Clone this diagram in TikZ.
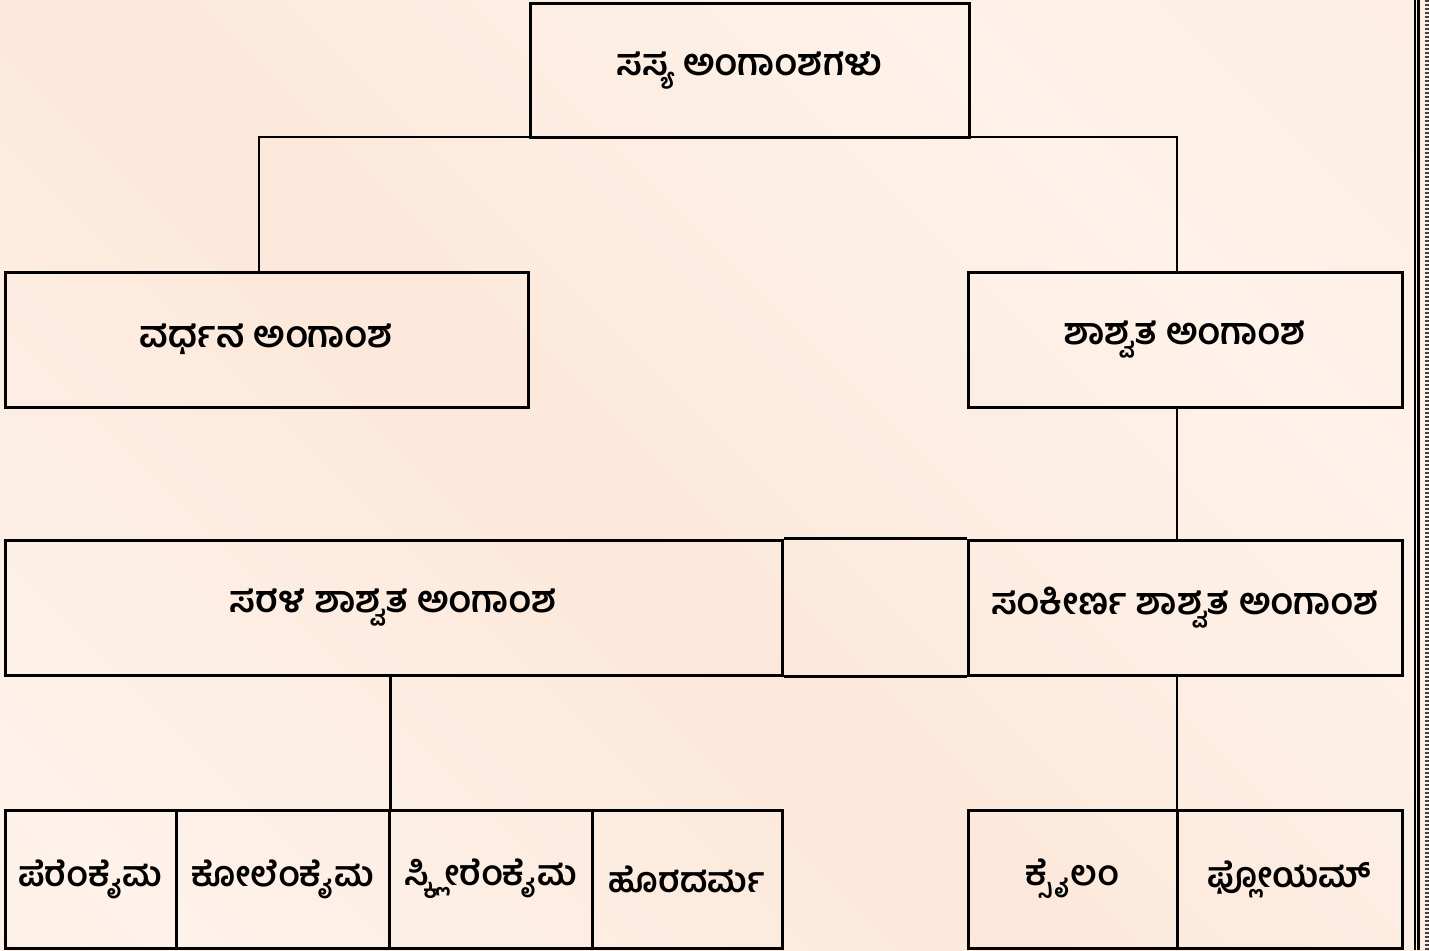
\documentclass[tikz,border=0pt]{standalone}
\usepackage{fontspec}
\usepackage{tikz}
\newfontfamily\kannada[Script=Kannada]{Hind Mysuru}

\definecolor{peachdark}{HTML}{FCE8DA}
\definecolor{peachlight}{HTML}{FEF2EA}
\pgfdeclarehorizontalshading{peachbands}{100bp}{color(0bp)=(peachdark); color(30bp)=(peachlight); color(55bp)=(peachdark); color(80bp)=(peachlight); color(100bp)=(peachdark)}

\tikzset{
  cell/.style 2 args={draw, line width=3pt, minimum width=#1, minimum height=#2,
    inner sep=0pt, font=\kannada\bfseries\fontsize{37}{42}\selectfont},
  leaf/.style={cell={#1}{138pt}, font=\kannada\bfseries\fontsize{35}{40}\selectfont},
  link/.style={line width=2.5pt}
}

\begin{document}
\begin{tikzpicture}[x=1pt, y=-1pt]

%% page
\useasboundingbox (0,0) rectangle (1429,950);
\shade[shading=peachbands, shading angle=-135] (0,0) rectangle (1429,950);
\draw[line width=2.4pt] (1415,0) -- (1415,950);
\draw[line width=2.4pt] (1418.5,0) -- (1418.5,950);
\draw[line width=4pt, black!75, dash pattern=on 2pt off 2pt] (1427,0) -- (1427,950);

%% boxes
\node[cell={439pt}{133pt}] (root) at (749.5,70.5) {ಸಸ್ಯ ಅಂಗಾಂಶಗಳು};
\node[cell={523pt}{135pt}] (vardhana) at (266.5,339.5) {ವರ್ಧನ ಅಂಗಾಂಶ};
\node[cell={434pt}{135pt}] (shashvata) at (1185,339.5) {ಶಾಶ್ವತ ಅಂಗಾಂಶ};
\node[cell={777pt}{135pt}] (sarala) at (393.5,607.5) {ಸರಳ ಶಾಶ್ವತ ಅಂಗಾಂಶ};
\node[cell={434pt}{135pt}] (sankeerna) at (1185,607.5) {ಸಂಕೀರ್ಣ ಶಾಶ್ವತ ಅಂಗಾಂಶ};

%% bottom row
\node[leaf=171pt] (parenchyma) at (90.5,879) {ಪೆರೆಂಕೈಮ};
\node[leaf=213pt] (collenchyma) at (282.5,879) {ಕೋಲೆಂಕೈಮ};
\node[leaf=203pt] (sclerenchyma) at (490.5,879) {ಸ್ಕ್ಲೀರೆಂಕೈಮ};
\node[leaf=190pt] (epidermis) at (687,879) {ಹೊರದರ್ಮ};
\node[leaf=209pt] (xylem) at (1072.5,879) {ಕ್ಸೈಲಂ};
\node[leaf=225pt] (phloem) at (1289.5,879) {ಫ್ಲೋಯಮ್};

%% links
\coordinate (jl) at (259,137);
\coordinate (jr) at (1177,137);
\draw[link] (jl |- vardhana.north) -- (jl) -- (jr) -- (jr |- shashvata.north);
\draw[link] (jr |- shashvata.south) -- (jr |- sankeerna.north);
\draw[link] (sarala.north east) -- (sankeerna.north west);
\draw[link] (sarala.south east) -- (sankeerna.south west);
\draw[link] (collenchyma.east |- sarala.south) -- (collenchyma.north east);
\draw[link] (jr |- sankeerna.south) -- (jr |- xylem.north);

\end{tikzpicture}
\end{document}
